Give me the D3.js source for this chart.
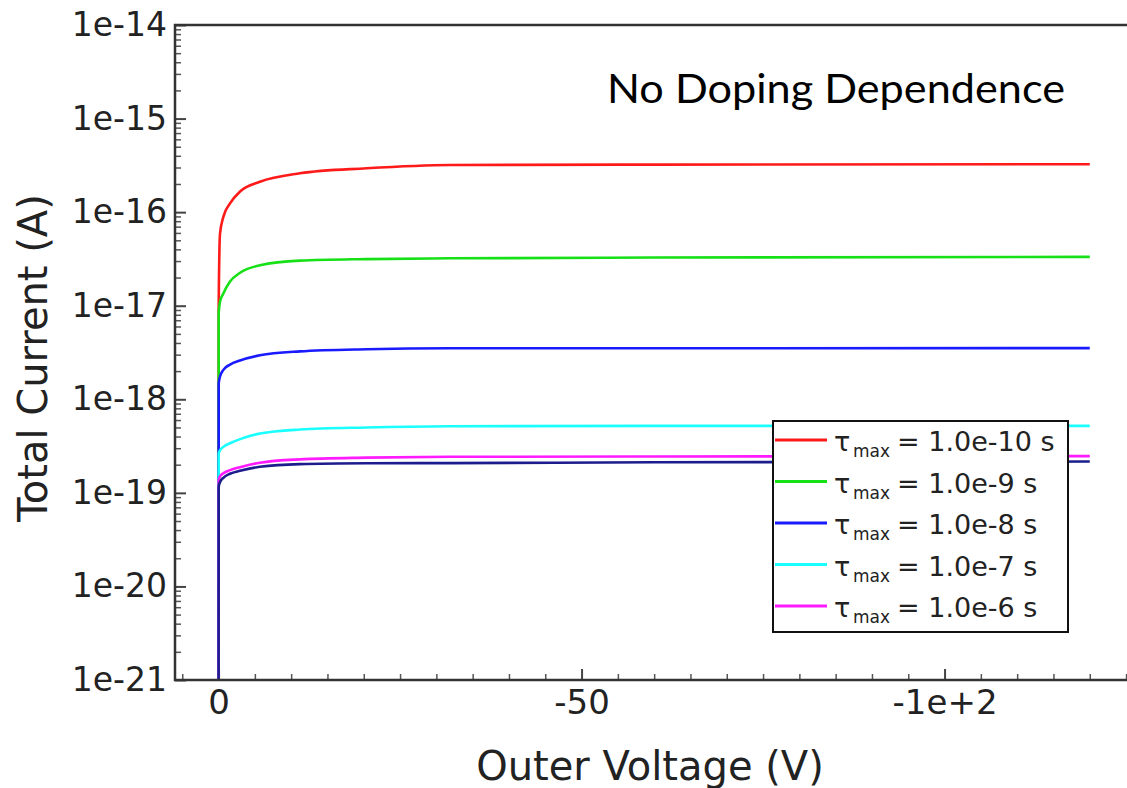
<!DOCTYPE html>
<html>
<head>
<meta charset="utf-8">
<script src="https://cdn.jsdelivr.net/npm/d3@7"></script>
<style>
  body { margin: 0; background: #fff; }
  svg { display: block; }
</style>
</head>
<body>
<div id="my_dataviz"></div>
<script>
// data
var voltage = [0, -0.02, -0.2, -0.66, -1.58, -2.96, -5.7, -11.2, -20.4, -31.9, -60, -120]

var current_1e10 = [1e-22, 1e-17, 5.9e-17, 8.9e-17, 1.24e-16, 1.66e-16, 2.11e-16, 2.6e-16, 2.94e-16, 3.19e-16, 3.22e-16, 3.25e-16]
var current_1e9 = [1e-22, 8.3e-18, 1.1e-17, 1.35e-17, 1.81e-17, 2.25e-17, 2.7e-17, 3.03e-17, 3.15e-17, 3.21e-17, 3.27e-17, 3.33e-17]
var current_1e8 = [1e-22, 1.48e-18, 1.75e-18, 2.06e-18, 2.35e-18, 2.6e-18, 2.95e-18, 3.25e-18, 3.43e-18, 3.51e-18, 3.51e-18, 3.52e-18]
var current_1e7 = [1e-22, 2.64e-19, 2.85e-19, 3.1e-19, 3.39e-19, 3.75e-19, 4.3e-19, 4.75e-19, 5.0e-19, 5.15e-19, 5.2e-19, 5.2e-19]
var current_1e6 = [1e-22, 1.37e-19, 1.5e-19, 1.62e-19, 1.75e-19, 1.88e-19, 2.1e-19, 2.28e-19, 2.38e-19, 2.43e-19, 2.45e-19, 2.47e-19]
// extra curve drawn on top, not in the legend
var current_extra = [1e-22, 1.16e-19, 1.3e-19, 1.45e-19, 1.6e-19, 1.72e-19, 1.9e-19, 2.03e-19, 2.07e-19, 2.08e-19, 2.12e-19, 2.16e-19]

var series_values = [current_1e10, current_1e9, current_1e8, current_1e7, current_1e6, current_extra]
var series_colors = ["#ff1a1a", "#16e016", "#1a1aff", "#1affff", "#ff1aff", "#1c1c8c"]
var legend_values = ["1.0e-10 s", "1.0e-9 s", "1.0e-8 s", "1.0e-7 s", "1.0e-6 s"]

var y_ticks = [1e-14, 1e-15, 1e-16, 1e-17, 1e-18, 1e-19, 1e-20, 1e-21]
var x_ticks = [0, -50, -100]
var x_tick_labels = ["0", "-50", "-1e+2"]

// set dimensions (plot_top, not "top": that one is taken by window)
var width = 1127
var height = 788
var plot_left = 175, plot_top = 25, plot_bottom = 680

var svg = d3.select("#my_dataviz")
  .append("svg")
  .attr("width", width)
  .attr("height", height);

// scales
var x = d3.scaleLinear()
    .domain([6, -130])
    .range([plot_left, plot_left + 136 * 7.26]);

var y = d3.scaleLog()
    .domain([1e-21, 1e-14])
    .range([plot_bottom, plot_top]);

// clip for the curves
svg.append("clipPath")
    .attr("id", "plot_clip")
  .append("rect")
    .attr("x", plot_left)
    .attr("y", plot_top)
    .attr("width", width - plot_left)
    .attr("height", plot_bottom - plot_top);

// minor ticks
var y_minor = []
y_ticks.slice(0, -1).forEach(function(d) {
    for (var k = 2; k <= 9; k++) { y_minor.push(d / 10 * k) }
});
var x_minor = d3.range(5, -130, -5).filter(function(d) { return d % 50 != 0 });

svg.append("g")
    .attr("transform", "translate(" + plot_left + ",0)")
    .call(d3.axisLeft(y).tickValues(y_minor).tickSize(-6).tickFormat(""))
    .call(function(g) { g.select(".domain").remove() })
    .selectAll("line").attr("stroke", "#555").attr("stroke-width", 1.5);

svg.append("g")
    .attr("transform", "translate(0," + plot_bottom + ")")
    .call(d3.axisBottom(x).tickValues(x_minor).tickSize(-6).tickFormat(""))
    .call(function(g) { g.select(".domain").remove() })
    .selectAll("line").attr("stroke", "#555").attr("stroke-width", 1.5);

// major y axis
var y_axis = svg.append("g")
    .attr("transform", "translate(" + plot_left + ",0)")
    .call(d3.axisLeft(y)
        .tickValues(y_ticks)
        .tickSize(-11)
        .tickPadding(8)
        .tickFormat(function(d) { return "1e" + Math.round(Math.log10(d)) }))
    .call(function(g) { g.select(".domain").remove() });
y_axis.selectAll("line").attr("stroke", "#444").attr("stroke-width", 2);
y_axis.selectAll("text")
    .attr("font-family", "DejaVu Sans")
    .attr("font-size", "33px")
    .attr("fill", "#222");

// major x axis
var x_axis = svg.append("g")
    .attr("transform", "translate(0," + plot_bottom + ")")
    .call(d3.axisBottom(x)
        .tickValues(x_ticks)
        .tickSize(-11)
        .tickPadding(10)
        .tickFormat(function(d, i) { return x_tick_labels[i] }))
    .call(function(g) { g.select(".domain").remove() });
x_axis.selectAll("line").attr("stroke", "#444").attr("stroke-width", 2);
x_axis.selectAll("text")
    .attr("font-family", "DejaVu Sans")
    .attr("font-size", "34px")
    .attr("fill", "#222");

// curves
var line = d3.line()
    .x(function(d) { return x(d[0]) })
    .y(function(d) { return y(d[1]) })
    .curve(d3.curveMonotoneX);

svg.append("g")
    .attr("clip-path", "url(#plot_clip)")
  .selectAll("path")
  .data(series_values)
  .enter()
  .append("path")
    .attr("d", function(vals) {
        return line(vals.map(function(v, i) { return [voltage[i], v] }))
    })
    .attr("fill", "none")
    .attr("stroke", function(d, i) { return series_colors[i] })
    .attr("stroke-width", 2.6);

// frame
svg.append("path")
    .attr("d", "M" + width + "," + plot_top + "H" + plot_left + "V" + plot_bottom + "H" + width)
    .attr("fill", "none")
    .attr("stroke", "#333")
    .attr("stroke-width", 2.5);

// axis titles
svg.append("text")
    .attr("x", 650)
    .attr("y", 780)
    .attr("text-anchor", "middle")
    .attr("font-family", "DejaVu Sans")
    .attr("font-size", "40px")
    .attr("fill", "#222")
    .text("Outer Voltage (V)");

svg.append("text")
    .attr("transform", "translate(47,358) rotate(-90)")
    .attr("text-anchor", "middle")
    .attr("font-family", "DejaVu Sans")
    .attr("font-size", "40px")
    .attr("fill", "#222")
    .text("Total Current (A)");

// title inside the plot
svg.append("text")
    .attr("x", 607)
    .attr("y", 103)
    .attr("font-family", "Lato")
    .attr("font-size", "41px")
    .attr("fill", "#000")
    .attr("textLength", 458)
    .attr("lengthAdjust", "spacingAndGlyphs")
    .text("No Doping Dependence");

// legend
var legend = svg.append("g");
legend.append("rect")
    .attr("x", 773)
    .attr("y", 421)
    .attr("width", 295)
    .attr("height", 211)
    .attr("fill", "#fff")
    .attr("stroke", "#111")
    .attr("stroke-width", 2);

var rows = legend.selectAll(".row")
  .data(legend_values)
  .enter()
  .append("g")
    .attr("transform", function(d, i) { return "translate(0," + (440 + i * 41.5) + ")" });

rows.append("line")
    .attr("x1", 775)
    .attr("x2", 827)
    .attr("stroke", function(d, i) { return series_colors[i] })
    .attr("stroke-width", 3);

var label = rows.append("text")
    .attr("y", 11)
    .attr("font-family", "DejaVu Sans")
    .attr("fill", "#222");
label.append("tspan")
    .attr("x", 834)
    .attr("font-size", "27px")
    .text("τ");
label.append("tspan")
    .attr("x", 853)
    .attr("dy", 6)
    .attr("font-size", "17px")
    .text("max");
label.append("tspan")
    .attr("x", 897)
    .attr("dy", -6)
    .attr("font-size", "27px")
    .text(function(d) { return "= " + d });
</script>
</body>
</html>
